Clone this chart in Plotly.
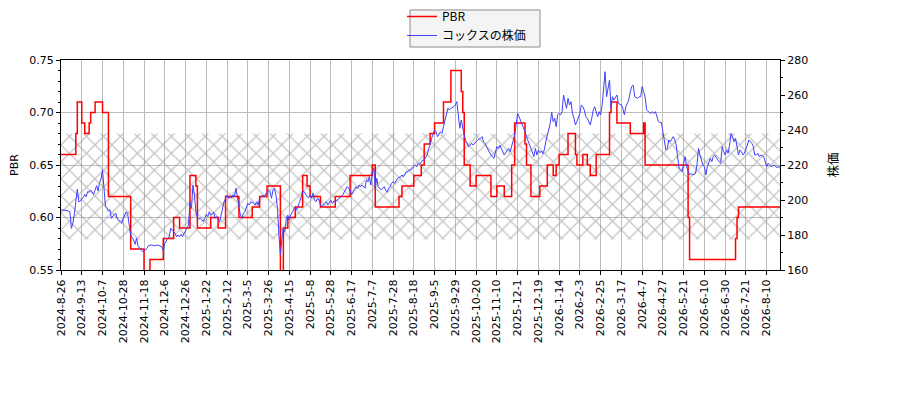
import plotly.graph_objects as go

# ---- data ----
tick_labels = ["2024-8-26", "2024-9-13", "2024-10-7", "2024-10-28", "2024-11-18", "2024-12-6",
               "2024-12-26", "2025-1-22", "2025-2-12", "2025-3-5", "2025-3-26", "2025-4-15",
               "2025-5-8", "2025-5-28", "2025-6-17", "2025-7-7", "2025-7-28", "2025-8-18",
               "2025-9-5", "2025-9-29", "2025-10-20", "2025-11-10", "2025-12-1", "2025-12-19",
               "2026-1-14", "2026-2-3", "2026-2-25", "2026-3-17", "2026-4-7", "2026-4-27",
               "2026-5-21", "2026-6-10", "2026-6-30", "2026-7-21", "2026-8-10"]
tick_step = 14          # trading days between labelled ticks
n_days = 486            # trading days shown

# PBR (step series): trading-day index where value changes, and value
red_day = [0, 10, 11, 14, 16, 19, 20, 23, 28, 32, 47, 56, 60, 69, 76, 80, 87, 91, 92, 101,
           106, 111, 120, 129, 134, 139, 148, 150, 153, 158, 163, 166, 168, 175, 185, 195, 210,
           212, 228, 230, 238, 243, 245, 249, 252, 258, 263, 270, 271, 272, 276, 280, 290, 294,
           299, 304, 306, 313, 314, 317, 323, 328, 332, 334, 336, 342, 347, 348, 352, 355, 357,
           361, 370, 371, 375, 384, 393, 394, 423, 424, 455, 456, 457, 485]
red_val = [0.66, 0.68, 0.71, 0.69, 0.68, 0.69, 0.70, 0.71, 0.70, 0.62, 0.57, 0.54, 0.56, 0.58,
           0.60, 0.59, 0.64, 0.63, 0.59, 0.60, 0.59, 0.62, 0.60, 0.61, 0.62, 0.63, 0.54, 0.59,
           0.60, 0.61, 0.64, 0.63, 0.62, 0.61, 0.62, 0.64, 0.65, 0.61, 0.62, 0.63, 0.64, 0.65,
           0.67, 0.68, 0.69, 0.71, 0.74, 0.72, 0.70, 0.65, 0.63, 0.64, 0.62, 0.63, 0.62, 0.65,
           0.69, 0.67, 0.65, 0.62, 0.63, 0.65, 0.64, 0.65, 0.66, 0.68, 0.66, 0.65, 0.66, 0.65,
           0.64, 0.66, 0.70, 0.71, 0.69, 0.68, 0.69, 0.65, 0.60, 0.56, 0.58, 0.60, 0.61, 0.61]

# Share price: trading-day index and value
blue_day = [0, 2, 5, 6, 7, 8, 9, 10, 11, 12, 13, 14, 15, 16, 17, 18, 19, 20, 22, 23, 24, 25, 26,
            27, 28, 29, 30, 31, 32, 33, 34, 35, 36, 37, 38, 40, 41, 42, 43, 44, 45, 46, 47, 49,
            50, 51, 52, 53, 54, 55, 56, 58, 59, 61, 63, 65, 68, 69, 70, 71, 72, 73, 74, 76, 77,
            78, 79, 80, 81, 82, 83, 85, 86, 87, 88, 89, 90, 91, 92, 93, 94, 95, 96, 97, 98, 99,
            100, 101, 103, 104, 105, 106, 107, 108, 109, 110, 112, 113, 114, 115, 116, 117, 118,
            119, 120, 121, 122, 123, 124, 125, 126, 127, 128, 130, 131, 132, 133, 134, 135, 136,
            137, 138, 140, 141, 142, 143, 144, 145, 146, 147, 148, 149, 150, 151, 152, 153, 154,
            155, 156, 157, 158, 159, 160, 161, 162, 163, 164, 166, 167, 168, 169, 170, 171, 172,
            173, 174, 175, 176, 178, 179, 180, 181, 182, 183, 184, 185, 188, 189, 190, 191, 192,
            193, 195, 196, 197, 198, 199, 200, 201, 202, 203, 205, 206, 207, 208, 209, 210, 211,
            212, 213, 214, 215, 216, 217, 218, 219, 220, 221, 222, 223, 224, 225, 226, 227, 229,
            230, 231, 232, 233, 234, 235, 236, 238, 239, 240, 241, 242, 243, 244, 245, 247, 248,
            249, 250, 251, 252, 253, 254, 256, 257, 258, 259, 260, 261, 262, 263, 265, 266, 267,
            268, 269, 270, 271, 272, 273, 274, 275, 276, 277, 278, 279, 280, 281, 283, 284, 285,
            286, 287, 288, 289, 290, 292, 293, 294, 295, 296, 297, 298, 299, 301, 302, 303, 304,
            305, 306, 307, 308, 309, 310, 311, 312, 313, 314, 315, 316, 317, 319, 320, 321, 322,
            323, 324, 325, 326, 327, 328, 329, 330, 331, 332, 333, 334, 335, 336, 337, 338, 339,
            340, 341, 342, 343, 344, 345, 346, 347, 348, 349, 350, 351, 352, 353, 354, 355, 356,
            357, 358, 359, 360, 361, 362, 363, 364, 365, 367, 368, 369, 370, 371, 372, 373, 375,
            376, 378, 379, 380, 381, 383, 384, 385, 386, 387, 389, 390, 391, 392, 393, 394, 395,
            396, 397, 398, 399, 400, 401, 402, 403, 404, 405, 406, 407, 408, 409, 410, 411, 412,
            413, 414, 415, 416, 417, 418, 419, 420, 421, 422, 423, 424, 425, 426, 427, 428, 429,
            430, 431, 432, 433, 434, 435, 436, 437, 438, 439, 440, 441, 442, 443, 445, 446, 447,
            448, 449, 450, 451, 452, 453, 454, 455, 456, 457, 458, 459, 460, 461, 463, 464, 465,
            466, 467, 468, 469, 470, 471, 472, 474, 475, 476, 477, 478, 479, 481, 482, 483, 484,
            485]
blue_val = [194.3, 194.3, 193.7, 193.3, 183.8, 186.7, 191.8, 199.0, 206.1, 199.0, 199.4, 200.6,
            201.3, 203.2, 201.9, 204.8, 204.4, 205.7, 203.2, 205.7, 208.2, 205.1, 209.9, 212.0,
            217.1, 206.7, 196.2, 195.2, 193.7, 194.3, 189.5, 191.0, 191.8, 192.4, 189.1, 187.6,
            186.7, 189.5, 191.8, 193.3, 191.8, 185.7, 180.0, 177.1, 174.7, 178.1, 173.3, 172.8,
            171.4, 170.5, 170.9, 172.4, 173.9, 174.3, 173.9, 174.3, 173.3, 170.9, 175.2, 177.1,
            178.1, 179.0, 183.8, 181.9, 181.0, 179.0, 180.0, 179.0, 180.5, 179.0, 181.0, 183.8,
            185.7, 199.0, 195.2, 208.6, 202.9, 193.3, 189.5, 189.1, 189.5, 188.6, 187.6, 189.5,
            191.8, 190.5, 193.3, 191.4, 193.0, 189.5, 190.5, 188.6, 187.6, 191.4, 195.2, 199.0,
            202.9, 201.0, 201.9, 201.0, 202.9, 201.9, 206.7, 201.0, 195.2, 191.4, 189.5, 192.4,
            193.3, 195.2, 198.1, 197.1, 199.0, 198.1, 197.1, 199.0, 197.1, 201.0, 201.9, 202.9,
            201.9, 203.2, 205.7, 204.8, 201.0, 205.7, 206.7, 202.9, 195.2, 180.0, 168.6, 178.0,
            183.8, 181.9, 189.5, 191.4, 188.6, 191.4, 193.3, 195.2, 196.2, 194.3, 196.2, 199.0,
            201.5, 205.0, 204.8, 201.9, 201.3, 202.9, 201.0, 203.8, 200.0, 199.0, 201.0, 200.0,
            197.1, 196.2, 198.1, 199.0, 197.1, 199.0, 200.0, 198.1, 199.4, 199.0, 201.0, 201.9,
            202.9, 204.8, 206.7, 207.6, 205.7, 202.9, 204.8, 206.7, 207.6, 206.7, 208.6, 207.6,
            208.6, 206.7, 211.4, 210.5, 213.3, 208.6, 216.2, 218.1, 206.7, 212.4, 207.6, 206.7,
            205.7, 206.7, 207.6, 205.7, 204.4, 206.7, 207.6, 209.5, 210.5, 209.5, 211.4, 212.4,
            213.3, 214.3, 213.3, 215.2, 216.2, 216.2, 217.1, 217.1, 219.0, 220.0, 219.0, 221.0,
            220.5, 221.5, 222.8, 222.9, 225.7, 229.5, 231.4, 235.2, 237.1, 240.0, 239.0, 236.2,
            239.0, 238.1, 241.9, 245.7, 247.6, 252.4, 251.4, 252.4, 253.3, 254.3, 256.2, 247.0,
            241.0, 245.7, 240.0, 237.1, 234.0, 232.4, 230.5, 231.4, 232.4, 231.4, 232.4, 233.3,
            234.3, 235.2, 236.2, 233.3, 232.4, 230.5, 228.6, 227.6, 225.7, 223.8, 227.6, 230.5,
            229.5, 231.4, 229.5, 227.6, 225.7, 228.6, 229.5, 227.6, 231.4, 234.3, 237.1, 242.9,
            249.5, 247.6, 245.7, 243.8, 241.9, 239.0, 236.2, 234.3, 232.4, 229.5, 224.8, 229.5,
            225.7, 228.6, 227.0, 228.0, 226.4, 228.6, 233.3, 237.1, 239.0, 243.8, 250.1, 244.8,
            246.7, 241.9, 248.6, 249.5, 248.6, 250.5, 260.0, 256.2, 252.4, 258.1, 254.3, 256.2,
            249.5, 246.7, 242.9, 244.8, 247.6, 249.5, 254.3, 253.3, 251.4, 247.6, 246.7, 244.8,
            242.9, 246.7, 251.4, 253.3, 249.5, 247.6, 250.5, 248.6, 254.0, 273.3, 259.0, 264.8,
            268.6, 252.4, 259.0, 257.1, 260.0, 255.2, 254.3, 252.4, 248.6, 253.3, 257.1, 261.9,
            264.8, 265.7, 259.0, 258.1, 259.0, 259.0, 264.8, 261.9, 259.0, 251.4, 250.5, 250.0,
            249.5, 250.5, 249.5, 250.5, 247.6, 244.8, 244.3, 244.3, 239.0, 233.3, 228.6, 229.5,
            234.3, 233.3, 235.2, 236.2, 234.3, 231.4, 224.0, 218.1, 217.1, 216.2, 221.0, 224.8,
            219.0, 217.1, 214.3, 215.2, 214.3, 214.7, 215.2, 220.0, 229.5, 225.7, 223.3, 220.0,
            219.0, 214.3, 219.0, 221.0, 223.8, 221.9, 224.8, 225.7, 223.8, 222.9, 221.0, 230.5,
            227.6, 225.7, 228.6, 226.7, 231.4, 238.1, 236.2, 233.3, 235.2, 229.5, 225.7, 228.6,
            227.6, 225.7, 226.7, 231.4, 234.3, 233.3, 232.4, 230.5, 225.7, 225.7, 226.7, 224.8,
            225.7, 224.8, 221.9, 219.0, 221.0, 220.0, 219.0, 220.0, 219.0, 218.5, 219.0, 219.0]

band_low = 0.579     # hatched PBR band
band_high = 0.68

pbr_range = [0.55, 0.75]
price_range = [160, 280]

# ---- figure ----
FONT = "DejaVu Sans, Noto Sans CJK JP, sans-serif"
last = n_days - 1
tickvals = [i * tick_step for i in range(len(tick_labels))]

fig = go.Figure()
fig.add_trace(go.Scatter(
    x=[0, last, last, 0, 0], y=[band_low, band_low, band_high, band_high, band_low],
    mode="lines", fill="toself", line=dict(width=0, color="rgba(0,0,0,0)"),
    fillcolor="rgba(0,0,0,0)",
    fillpattern=dict(shape="x", size=12, solidity=0.2, fgcolor="#8a8a8a",
                     bgcolor="rgba(255,255,255,0)"),
    showlegend=False, hoverinfo="skip", yaxis="y"))
fig.add_trace(go.Scatter(
    x=red_day, y=red_val, mode="lines", name="PBR",
    line=dict(color="#ff0000", width=1.5, shape="hv"), yaxis="y"))
fig.add_trace(go.Scatter(
    x=blue_day, y=blue_val, mode="lines", name="コックスの株価",
    line=dict(color="#4040ff", width=1.0), yaxis="y2"))

axis_common = dict(showline=True, linecolor="black", linewidth=1, ticks="outside",
                   ticklen=4, tickcolor="black", tickfont=dict(size=11, color="black"),
                   zeroline=False)

# legend frame (drawn as a box behind a transparent legend)
fig.add_shape(type="rect", xref="paper", yref="paper",
              x0=0.4854, x1=0.6662, y0=1.0619, y1=1.2381,
              fillcolor="#f4f4f4", line=dict(color="#8c8c8c", width=1), layer="below")

# the page body has an 8px margin; figure is sized so the plot area lands at x 61-780, y 60-270
fig.update_layout(
    width=892, height=392,
    margin=dict(l=53, r=120, t=52, b=130, autoexpand=False),
    paper_bgcolor="white", plot_bgcolor="white",
    font=dict(family=FONT, size=11, color="black"),
    xaxis=dict(range=[0, last], tickmode="array", tickvals=tickvals, ticktext=tick_labels,
               tickangle=-90, showgrid=True, gridcolor="#bdbdbd", gridwidth=0.8,
               mirror=True, **axis_common),
    yaxis=dict(range=pbr_range, dtick=0.05, tick0=0.55, tickformat=".2f",
               showgrid=True, gridcolor="#bdbdbd", gridwidth=0.8, mirror=True,
               title=dict(text="PBR", standoff=8, font=dict(size=11)),
               minor=dict(dtick=0.01, ticklen=2, ticks="outside", tickcolor="black",
                          showgrid=False),
               automargin=False, **axis_common),
    yaxis2=dict(range=price_range, dtick=20, overlaying="y", side="right", showgrid=False,
                title=dict(text="株価", standoff=22,
                           font=dict(size=12.5, family="Noto Sans CJK JP")),
                minor=dict(dtick=10, ticklen=2, ticks="outside", tickcolor="black",
                           showgrid=False),
                automargin=False, **axis_common),
    legend=dict(x=0.4743, y=1.2762, xanchor="left", yanchor="top",
                bgcolor="rgba(0,0,0,0)", borderwidth=0,
                font=dict(size=12, family="Noto Sans CJK JP, DejaVu Sans"),
                itemwidth=30, tracegroupgap=0),
    showlegend=True,
)

fig.write_html("out.html")
